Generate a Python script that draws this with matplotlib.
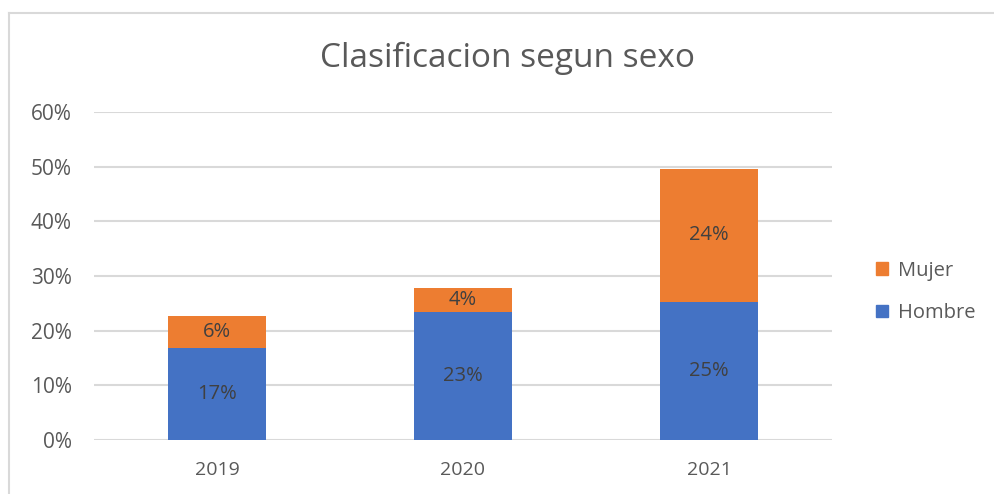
import matplotlib
matplotlib.use("Agg")
import matplotlib.pyplot as plt
from matplotlib.lines import Line2D
from matplotlib.patches import Patch

years = ["2019", "2020", "2021"]
hombre = [0.168, 0.234, 0.253]
mujer = [0.059, 0.044, 0.243]
yticks = [0.0, 0.1, 0.2, 0.3, 0.4, 0.5, 0.6]

blue = "#4472C4"
orange = "#ED7D31"
txt = "#595959"
grid = "#D9D9D9"

plt.rcParams["font.family"] = ["Open Sans", "DejaVu Sans"]

fig = plt.figure(figsize=(9.95, 4.94), dpi=100, facecolor="white")

# chart border (only top and left visible in the crop)
fig.add_artist(Line2D([9 / 995, 1], [1 - 13 / 494] * 2, color=grid, lw=1.5,
                      transform=fig.transFigure))
fig.add_artist(Line2D([9 / 995] * 2, [0, 1 - 13 / 494], color=grid, lw=1.5,
                      transform=fig.transFigure))

ax = fig.add_axes([94 / 995, 1 - 440 / 494, 738 / 995, 328 / 494])
x = range(len(years))
b1 = ax.bar(x, hombre, width=0.395, color=blue, zorder=3)
b2 = ax.bar(x, mujer, width=0.395, bottom=hombre, color=orange, zorder=3)

for bars, vals in ((b1, hombre), (b2, mujer)):
    ax.bar_label(bars, labels=["%d%%" % round(v * 100) for v in vals],
                 label_type="center", color="#404040", fontsize=14.5)

ax.set_xlim(-0.5, len(years) - 0.5)
ax.set_ylim(0, 0.6)
ax.set_yticks(yticks)
ax.set_yticklabels(["%d%%" % round(v * 100) for v in yticks])
ax.set_xticks(list(x))
ax.set_xticklabels(years)
ax.tick_params(axis="y", length=0, labelsize=15, labelcolor=txt, pad=16)
ax.tick_params(axis="x", length=0, labelsize=14, labelcolor=txt, pad=15)
ax.grid(axis="y", color=grid, lw=1.5, zorder=0)
for s in ax.spines.values():
    s.set_visible(False)

fig.text(508 / 995, 1 - 58 / 494, "Clasificacion segun sexo", ha="center",
         va="center", fontsize=24, color=txt)

handles = [Patch(color=orange, label="Mujer"), Patch(color=blue, label="Hombre")]
fig.legend(handles=handles, loc="center left", bbox_to_anchor=(858 / 995, 1 - 292 / 494),
           frameon=False, fontsize=14.5, labelcolor=txt, handlelength=0.6,
           handleheight=0.6, handletextpad=0.5, labelspacing=1.1)

fig.savefig("out.png", dpi=100, facecolor="white")
